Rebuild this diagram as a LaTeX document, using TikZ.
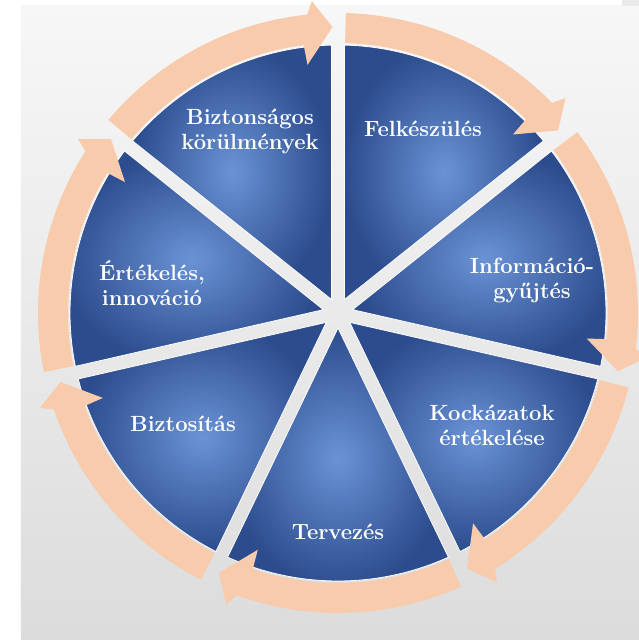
\documentclass[tikz,border=0pt]{standalone}
\usepackage{tikz}
\definecolor{bgtop}{HTML}{F7F7F7}
\definecolor{bgbottom}{HTML}{DCDCDC}
\definecolor{pielight}{HTML}{6A93D6}
\definecolor{piedark}{HTML}{2C4C8D}
\definecolor{peach}{HTML}{F8CBAD}

\begin{document}
\begin{tikzpicture}[line cap=round,line join=round,x=1pt,y=1pt,
  segment/.style={shade,inner color=pielight,outer color=piedark,draw=white,line width=0.8pt},
  ringarrow/.style={fill=peach,draw=none},
  steplabel/.style={text=white,font=\fontsize{22}{25}\selectfont\bfseries,align=center}]
\useasboundingbox (-338,-327) rectangle (301,313);
\shade[top color=bgtop,bottom color=bgbottom] (-317,-327) rectangle (301,307);
\fill[bgbottom!50!bgtop] (284,307) rectangle (301,313);
% pie segments
\path[segment] (64.286:15) -- (39.95:268) arc[start angle=39.95,end angle=88.62,radius=268] -- cycle;
\path[segment] (12.857:15) -- (-11.48:268) arc[start angle=-11.48,end angle=37.19,radius=268] -- cycle;
\path[segment] (-38.571:15) -- (-62.91:268) arc[start angle=-62.91,end angle=-14.24,radius=268] -- cycle;
\path[segment] (-90:15) -- (-114.33:268) arc[start angle=-114.33,end angle=-65.67,radius=268] -- cycle;
\path[segment] (-141.429:15) -- (-165.76:268) arc[start angle=-165.76,end angle=-117.10,radius=268] -- cycle;
\path[segment] (167.143:15) -- (142.81:268) arc[start angle=142.81,end angle=191.48,radius=268] -- cycle;
\path[segment] (115.714:15) -- (91.38:268) arc[start angle=91.38,end angle=140.05,radius=268] -- cycle;
% ring arrows
\path[ringarrow] (88.5:300) arc[start angle=88.5,end angle=44.47,radius=300] -- (43.37:313) -- (39.67:286) -- (45.57:250) -- (45.87:270) arc[start angle=45.87,end angle=88.5,radius=270] -- cycle;
\path[ringarrow] (37.07:300) arc[start angle=37.07,end angle=-6.96,radius=300] -- (-8.06:313) -- (-11.76:286) -- (-5.86:250) -- (-5.56:270) arc[start angle=-5.56,end angle=37.07,radius=270] -- cycle;
\path[ringarrow] (-14.36:300) arc[start angle=-14.36,end angle=-58.39,radius=300] -- (-59.49:313) -- (-63.19:286) -- (-57.29:250) -- (-56.99:270) arc[start angle=-56.99,end angle=-14.36,radius=270] -- cycle;
\path[ringarrow] (-65.79:300) arc[start angle=-65.79,end angle=-109.81,radius=300] -- (-110.91:313) -- (-114.61:286) -- (-108.71:250) -- (-108.41:270) arc[start angle=-108.41,end angle=-65.79,radius=270] -- cycle;
\path[ringarrow] (-117.21:300) arc[start angle=-117.21,end angle=-161.24,radius=300] -- (-162.34:313) -- (-166.04:286) -- (-160.14:250) -- (-159.84:270) arc[start angle=-159.84,end angle=-117.21,radius=270] -- cycle;
\path[ringarrow] (191.36:300) arc[start angle=191.36,end angle=147.33,radius=300] -- (146.23:313) -- (142.53:286) -- (148.43:250) -- (148.73:270) arc[start angle=148.73,end angle=191.36,radius=270] -- cycle;
\path[ringarrow] (139.93:300) arc[start angle=139.93,end angle=95.9,radius=300] -- (94.8:313) -- (91.1:286) -- (97.0:250) -- (97.3:270) arc[start angle=97.3,end angle=139.93,radius=270] -- cycle;
% labels
\node[steplabel] (felkeszules) at (85,184) {Felkészülés};
\node[steplabel] (informacio) at (194,33) {Információ-\\gyűjtés};
\node[steplabel] (kockazatok) at (154,-112) {Kockázatok\\értékelése};
\node[steplabel] (tervezes) at (0,-219) {Tervezés};
\node[steplabel] (biztositas) at (-155,-111) {Biztosítás};
\node[steplabel] (ertekeles) at (-186,30) {Értékelés,\\innováció};
\node[steplabel] (biztonsag) at (-88,182) {Biztonságos\\körülmények};
\end{tikzpicture}
\end{document}
